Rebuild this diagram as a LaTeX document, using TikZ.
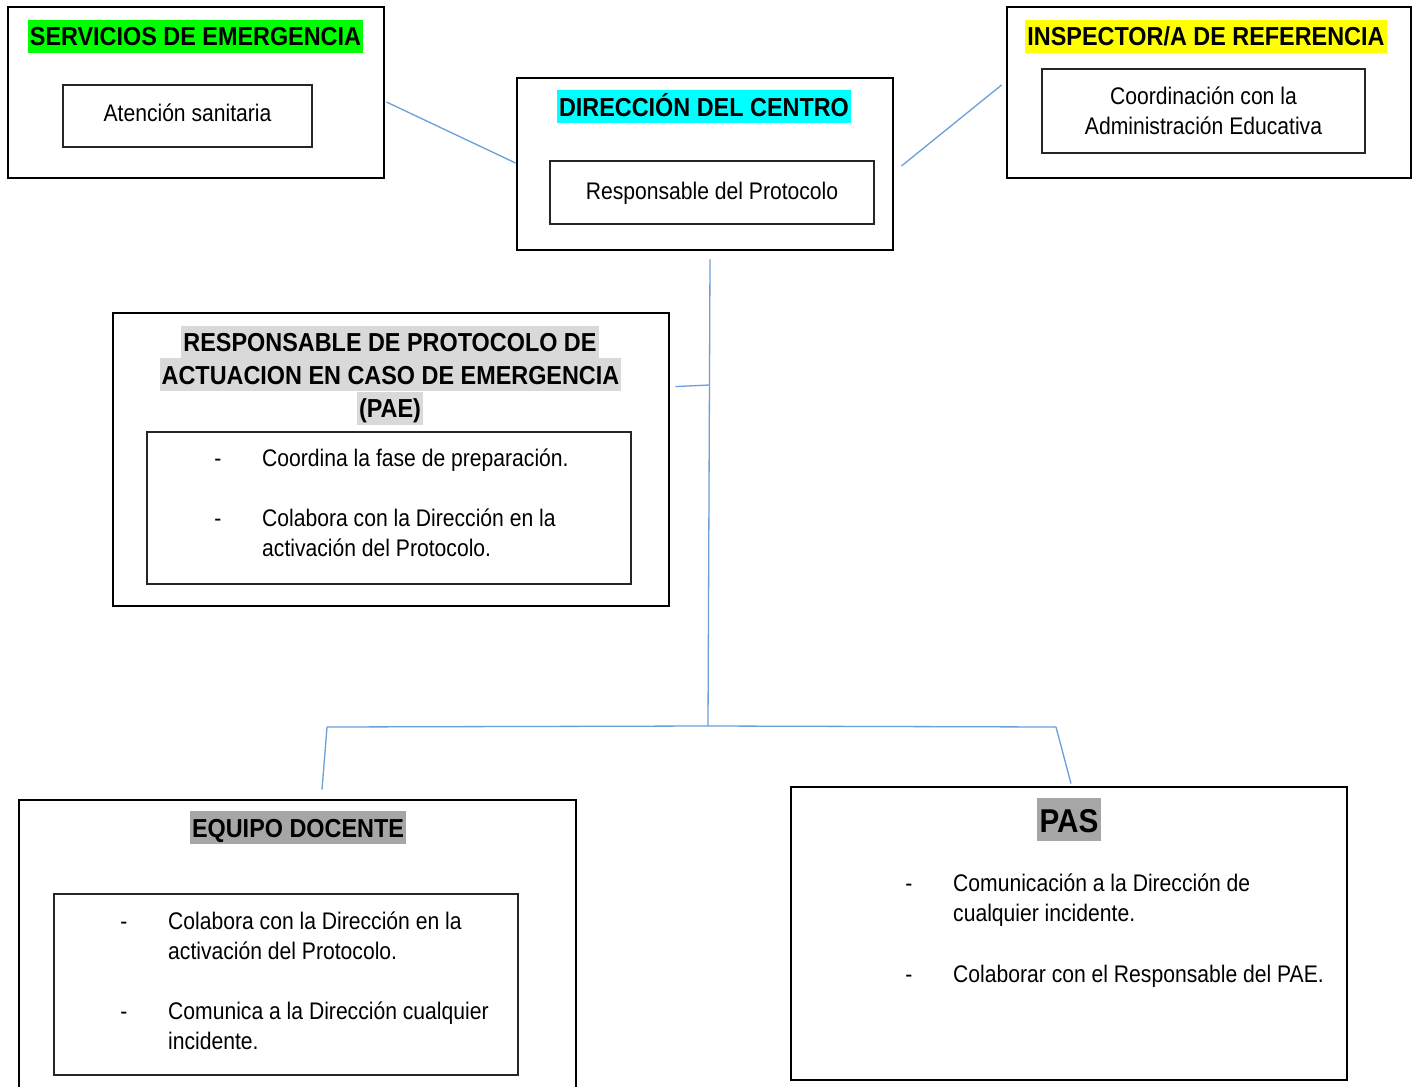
\documentclass[tikz,border=0pt]{standalone}
\usepackage{fontspec}
\setmainfont{Liberation Sans}
\newfontfamily\txtfont[FakeStretch=0.88]{Liberation Sans}
\newfontfamily\titfont[FakeStretch=0.9]{Liberation Sans}
\usetikzlibrary{calc}
\definecolor{linkblue}{HTML}{6A9FD8}
\definecolor{hlgreen}{HTML}{00FF00}
\definecolor{hlcyan}{HTML}{00FFFF}
\definecolor{hlyellow}{HTML}{FFFF00}
\definecolor{hlgray}{HTML}{D9D9D9}
\definecolor{hldark}{HTML}{A6A6A6}
\begin{document}
\begin{tikzpicture}[x=1pt,y=-1pt,
  outerbox/.style={draw=black,line width=2.9pt,inner sep=0pt},
  innerbox/.style={draw=black!85,line width=1.2pt,inner sep=0pt,align=center,
    font=\txtfont\fontsize{24pt}{30pt}\selectfont},
  titletext/.style={inner xsep=2pt,inner ysep=0pt,text height=26pt,text depth=7pt,
    font=\titfont\bfseries\fontsize{26pt}{33pt}\selectfont},
  bigtitle/.style={inner xsep=2.5pt,inner ysep=0pt,text height=34pt,text depth=9pt,
    font=\titfont\bfseries\fontsize{33pt}{40pt}\selectfont},
  bodytext/.style={inner sep=0pt,anchor=base west,
    font=\txtfont\fontsize{24pt}{30pt}\selectfont},
  dashmark/.style={inner sep=0pt,anchor=base,
    font=\txtfont\fontsize{24pt}{30pt}\selectfont},
  link/.style={draw=linkblue,line width=1.3pt}]
\useasboundingbox (0,0) rectangle (1419,1087);
\fill[white] (0,0) rectangle (1419,1087);

% outer boxes
\node[outerbox,minimum width=376pt,minimum height=171pt] (serv) at (196,92.5) {};
\node[outerbox,minimum width=376pt,minimum height=172pt] (dir) at (705,164) {};
\node[outerbox,minimum width=404pt,minimum height=171pt] (insp) at (1209,92.5) {};
\node[outerbox,minimum width=556pt,minimum height=293pt] (resp) at (391,459.5) {};
\node[outerbox,minimum width=557pt,minimum height=300pt] (equipo) at (297.5,950) {};
\node[outerbox,minimum width=556pt,minimum height=293pt] (pas) at (1069,933.5) {};

% titles
\node[titletext,fill=hlgreen] (servt) at (195.5,36) {SERVICIOS DE EMERGENCIA};
\node[titletext,fill=hlcyan] (dirt) at (704,106.5) {DIRECCIÓN DEL CENTRO};
\node[titletext,fill=hlyellow] (inspt) at (1206,36) {INSPECTOR/A DE REFERENCIA};
\node[titletext,fill=hlgray] (respt1) at (390,342) {RESPONSABLE DE PROTOCOLO DE};
\node[titletext,fill=hlgray] (respt2) at (390.5,374.5) {ACTUACION EN CASO DE EMERGENCIA};
\node[titletext,fill=hlgray] (respt3) at (390,408) {(PAE)};
\node[titletext,fill=hldark] (eqt) at (298,827.5) {EQUIPO DOCENTE};
\node[bigtitle,fill=hldark] (past) at (1069,819.5) {PAS};

% inner boxes
\node[innerbox,minimum width=249pt,minimum height=62pt,text depth=7pt] (servi) at (187.5,116) {Atención sanitaria};
\node[innerbox,minimum width=324pt,minimum height=63pt,text depth=4pt] (diri) at (712,192.5) {Responsable del Protocolo};
\node[innerbox,minimum width=323pt,minimum height=84pt] (inspi) at (1203.5,111) {Coordinación con la\\Administración Educativa};
\node[innerbox,minimum width=484pt,minimum height=152pt] (respi) at (389,508) {};
\node[innerbox,minimum width=464pt,minimum height=181pt] (equipoi) at (286,984.5) {};

% bullet lists
\node[dashmark] (rd1) at (218,466) {-};
\node[bodytext] (rt1) at (262,466) {Coordina la fase de preparación.};
\node[dashmark] (rd2) at (218,526) {-};
\node[bodytext] (rt2) at (262,526) {\parbox[t]{360pt}{\raggedright Colabora con la Dirección en la\\activación del Protocolo.}};

\node[dashmark] (ed1) at (124,929) {-};
\node[bodytext] (et1) at (168,929) {\parbox[t]{340pt}{\raggedright Colabora con la Dirección en la\\activación del Protocolo.}};
\node[dashmark] (ed2) at (124,1019) {-};
\node[bodytext] (et2) at (168,1019) {\parbox[t]{340pt}{\raggedright Comunica a la Dirección cualquier\\incidente.}};

\node[dashmark] (pd1) at (909,891) {-};
\node[bodytext] (pt1) at (953,891) {\parbox[t]{380pt}{\raggedright Comunicación a la Dirección de\\cualquier incidente.}};
\node[dashmark] (pd2) at (909,982) {-};
\node[bodytext] (pt2) at (953,982) {Colaborar con el Responsable del PAE.};

% connector joints
\coordinate (j1) at (708,726);
\coordinate (jl) at (327,727);
\coordinate (jr) at (1056,727);
\coordinate (tk) at (709.5,385);

% connectors
\draw[link] ($(serv.east)+(1,9.5)$) -- ($(dir.west)+(0,-1)$);
\draw[link] ($(dir.east)+(7,2)$) -- ($(insp.west)+(-4,-7.5)$);
\draw[link] ($(dir.south)+(5,8)$) -- (j1);
\draw[link] ($(resp.north east)+(5,75)$) -- (tk);
\draw[link] (jl) -- (j1) -- (jr);
\draw[link] (jl) -- ($(equipo.north)+(24.5,-9)$);
\draw[link] (jr) -- ($(pas.north)+(2,-2)$);
\end{tikzpicture}
\end{document}
